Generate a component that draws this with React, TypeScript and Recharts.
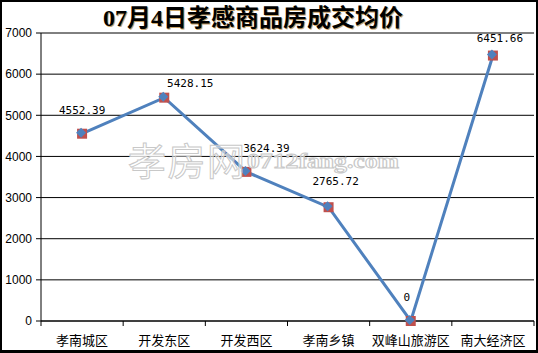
import React from 'react';
import { LineChart, Line, XAxis, YAxis, CartesianGrid, LabelList } from 'recharts';

const districts = ['孝南城区', '开发东区', '开发西区', '孝南乡镇', '双峰山旅游区', '南大经济区'];
const avgPrice = [4552.39, 5428.15, 3624.39, 2765.72, 0, 6451.66];
const priceLabels = ['4552.39', '5428.15', '3624.39', '2765.72', '0', '6451.66'];
const yTicks = [0, 1000, 2000, 3000, 4000, 5000, 6000, 7000];

const data = districts.map((name, i) => ({ name, price: avgPrice[i], label: priceLabels[i] }));

// label nudges, hand-placed like the original sheet
const labelOffsets = [
  [0, -23],
  [26, -14],
  [20, -23],
  [7, -26],
  [-4, -24],
  [7, -17],
];

const W = 538;
const H = 353;
const margin = { top: 33, right: 4, left: 0, bottom: 2 };
const yAxisWidth = 41;
const halfBand = (W - margin.left - margin.right - yAxisWidth) / districts.length / 2;

const Marker = (props: any) => {
  const { cx, cy, index } = props;
  if (cx == null || cy == null) return null;
  const r = 5;
  return (
    <g key={`dot-${index}`}>
      <rect x={cx - 5} y={cy - 5} width={10} height={10} fill="#C0504D" />
      <path
        d={`M${cx - 1},${cy - 1 - r} L${cx - 1 + r},${cy - 1} L${cx - 1},${cy - 1 + r} L${cx - 1 - r},${cy - 1} Z`}
        fill="#4F81BD"
      />
    </g>
  );
};

const XTick = (props: any) => {
  const { x, y, payload, index } = props;
  const axisY = y - 14;
  return (
    <g>
      <line x1={x - halfBand} y1={321} x2={x - halfBand} y2={326} stroke="#000" />
      {index === districts.length - 1 && (
        <line x1={x + halfBand} y1={321} x2={x + halfBand} y2={326} stroke="#000" />
      )}
      <text
        x={x}
        y={345}
        textAnchor="middle"
        fontSize={13}
        fill="#000"
        fontFamily='"Noto Sans CJK SC", sans-serif'
        data-axis={axisY}
      >
        {payload.value}
      </text>
    </g>
  );
};

const PriceLabel = (props: any) => {
  const { x, y, index, value } = props;
  const [dx, dy] = labelOffsets[index] || [0, -20];
  return (
    <text
      x={x + dx}
      y={y + dy}
      textAnchor="middle"
      dominantBaseline="central"
      fontSize={11}
      fill="#000"
      fontFamily='"DejaVu Sans Mono", monospace'
    >
      {value}
    </text>
  );
};

export default function App() {
  return (
    <div style={{ position: 'absolute', left: 0, top: 0, width: W, height: H, background: '#fff' }}>
      <div
        style={{
          position: 'absolute',
          left: 0,
          top: 4,
          width: 506,
          textAlign: 'center',
          fontSize: 24,
          fontWeight: 'bold',
          fontFamily: '"Liberation Serif", "Noto Sans CJK SC", serif',
          lineHeight: '28px',
          color: '#000',
          textShadow: '1px 1px 0 #c8a46a',
        }}
      >
        07月4日孝感商品房成交均价
      </div>
      <div style={{ position: 'absolute', left: 0, top: 0 }}>
        <LineChart width={W} height={H} data={data} margin={margin}>
          <CartesianGrid vertical={false} stroke="#000" strokeWidth={1} />
          <XAxis
            dataKey="name"
            scale="band"
            height={30}
            axisLine={{ stroke: '#000' }}
            tickLine={false}
            tick={<XTick />}
            interval={0}
          />
          <YAxis
            width={yAxisWidth}
            domain={[0, 7000]}
            ticks={yTicks}
            interval={0}
            axisLine={{ stroke: '#000' }}
            tickLine={{ stroke: '#000' }}
            tickSize={5}
            tickMargin={4}
            tick={{ fontSize: 12, fill: '#000', fontFamily: '"Liberation Sans", Arial, sans-serif' }}
          />
          <Line
            type="linear"
            dataKey="price"
            stroke="#4F81BD"
            strokeWidth={3}
            dot={<Marker />}
            activeDot={false}
            isAnimationActive={false}
          >
            <LabelList dataKey="label" content={<PriceLabel />} />
          </Line>
        </LineChart>
      </div>
      <svg
        width={W}
        height={H}
        style={{ position: 'absolute', left: 0, top: 0, pointerEvents: 'none' }}
      >
        <text
          x={128}
          y={175}
          fontSize={38}
          fontFamily='"Noto Sans CJK SC", sans-serif'
          fill="#fff"
          fillOpacity={0.55}
          stroke="#c8c8c8"
          strokeWidth={1}
          textLength={117}
        >
          孝房网
        </text>
        <text
          x={247}
          y={168}
          fontSize={20}
          fontWeight="bold"
          fontFamily='"Liberation Serif", serif'
          fill="#fff"
          fillOpacity={0.55}
          stroke="#c8c8c8"
          strokeWidth={1}
          textLength={152}
          lengthAdjust="spacingAndGlyphs"
        >
          0712fang.com
        </text>
      </svg>
      <div
        style={{
          position: 'absolute',
          left: 0,
          top: 0,
          width: W,
          height: H,
          boxSizing: 'border-box',
          borderStyle: 'solid',
          borderColor: '#000',
          borderWidth: '2px 2px 3px 2px',
          pointerEvents: 'none',
        }}
      />
    </div>
  );
}
